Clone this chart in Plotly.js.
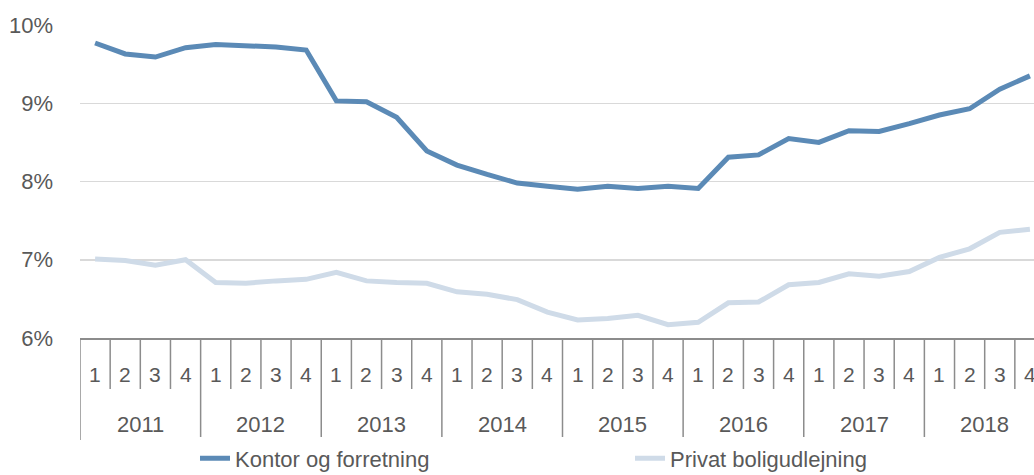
<!DOCTYPE html>
<html>
<head>
<meta charset="utf-8">
<script src="https://cdn.plot.ly/plotly-3.0.1.min.js"></script>
<style>
html,body{margin:0;padding:0;overflow:hidden;background:#fff;}
#chart{width:1045px;height:475px;}
</style>
</head>
<body>
<div id="chart"></div>
<script>
const years = ['2011','2012','2013','2014','2015','2016','2017','2018'];
const quarters = ['1','2','3','4'];
const kontor = [9.77,9.63,9.59,9.71, 9.75,9.74,9.72,9.68, 9.03,9.02,8.82,8.39, 8.21,8.09,7.98,7.94,
                7.90,7.94,7.91,7.94, 7.91,8.31,8.34,8.55, 8.50,8.65,8.64,8.74, 8.85,8.93,9.18,9.35];
const privat = [7.01,6.99,6.93,7.00, 6.71,6.70,6.73,6.75, 6.84,6.73,6.71,6.70, 6.59,6.56,6.49,6.33,
                6.23,6.25,6.29,6.17, 6.20,6.45,6.46,6.68, 6.71,6.82,6.79,6.85, 7.03,7.14,7.35,7.39];
const seriesNames = ['Kontor og forretning','Privat boligudlejning'];
const yTicks = [6,7,8,9,10];

const cats = [];
years.forEach(y => quarters.forEach(q => cats.push(y + '-' + q)));

const FONT = 'Liberation Sans, Arial, sans-serif';
const TXT = '#595959';
const AX = '#8c8c8c';

const traces = [
  {x: cats, y: kontor, type:'scatter', mode:'lines', name: seriesNames[0],
   line:{color:'#5b8ab6', width:5}},
  {x: cats, y: privat, type:'scatter', mode:'lines', name: seriesNames[1],
   line:{color:'#cfdbe8', width:5}}
];

const annotations = [];
const shapes = [];
cats.forEach((c, i) => {
  annotations.push({x: i, xref:'x', y:0, yref:'paper', yanchor:'middle', yshift:-36,
    text: quarters[i % 4], showarrow:false, font:{family:FONT, size:21, color:TXT}});
  const isYear = (i % 4 === 0);
  shapes.push({type:'line', xref:'x', yref:'paper', ysizemode:'pixel', yanchor:0,
    x0: i - 0.5, x1: i - 0.5, y0: 0, y1: isYear ? -102 : -51,
    line:{color:AX, width:1.5}});
});
years.forEach((y, k) => {
  annotations.push({x: k*4 + 1.5, xref:'x', y:0, yref:'paper', yanchor:'middle', yshift:-86,
    text: y, showarrow:false, font:{family:FONT, size:22, color:TXT}});
});

const layout = {
  width:1045, height:475,
  margin:{l:80, r:0, t:25, b:137},
  paper_bgcolor:'#fff', plot_bgcolor:'#fff',
  font:{family:FONT, color:TXT},
  showlegend:true,
  legend:{orientation:'h', xref:'container', yref:'container', x:0.1866, xanchor:'left',
    y:0.035, yanchor:'middle',
    font:{family:FONT, size:22, color:TXT}, entrywidth:390, entrywidthmode:'pixels'},
  xaxis:{type:'category', range:[-0.5, cats.length - 0.5], showticklabels:false, ticks:'',
    showgrid:false, zeroline:false, showline:true, linecolor:AX, linewidth:2, fixedrange:true},
  yaxis:{range:[6,10], tickvals:yTicks, ticktext:yTicks.map(v => v + '%'), ticks:'',
    showgrid:true, gridcolor:'#d9d9d9', gridwidth:1.5, zeroline:false, showline:false,
    tickfont:{family:FONT, size:22, color:TXT}, ticklabelstandoff:26, fixedrange:true},
  shapes: shapes,
  annotations: annotations
};

Plotly.newPlot('chart', traces, layout, {displayModeBar:false, staticPlot:true});
</script>
</body>
</html>
